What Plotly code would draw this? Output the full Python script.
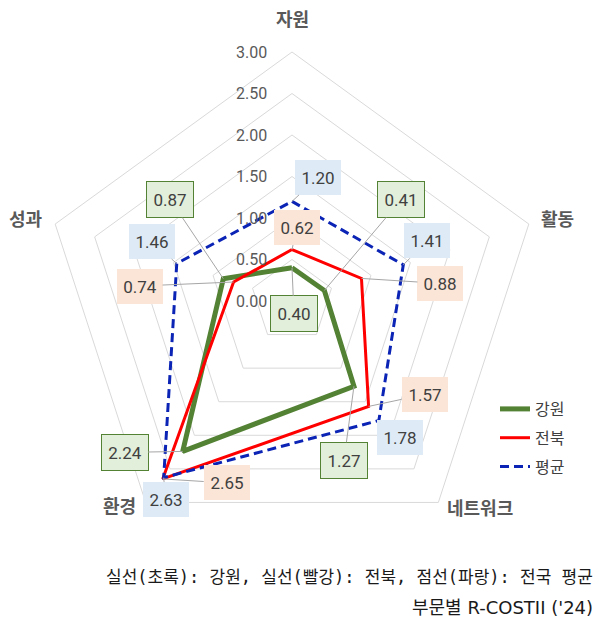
import math
import plotly.graph_objects as go

# ---- data -------------------------------------------------------------
categories = ['자원', '활동', '네트워크', '환경', '성과']
gangwon = [0.40, 0.41, 1.27, 2.24, 0.87]
jeonbuk = [0.62, 0.88, 1.57, 2.65, 0.74]
national_avg = [1.20, 1.41, 1.78, 2.63, 1.46]
series_names = ['강원', '전북', '평균']
radial_ticks = [0.0, 0.5, 1.0, 1.5, 2.0, 2.5, 3.0]
radial_tick_labels = ['0.00', '0.50', '1.00', '1.50', '2.00', '2.50', '3.00']
footer_lines = ['실선(초록): 강원, 실선(빨강): 전북, 점선(파랑): 전국 평균',
                "부문별 R-COSTII ('24)"]

series_values = {'강원': gangwon, '전북': jeonbuk, '평균': national_avg}

# ---- styling ----------------------------------------------------------
W, H = 599, 622
R_MAX = 3.0
CX, CY, RAD = 292, 301, 249          # plot centre / radius in pixels
dom_x = [(CX - RAD) / W, (CX + RAD) / W]
dom_y = [1 - (CY + RAD) / H, 1 - (CY - RAD) / H]

GRID = '#d9d9d9'
TEXT = '#404040'
AXIS_TEXT = '#595959'

line_styles = {
    '강원': dict(color='#548235', width=5),
    '전북': dict(color='#ff0000', width=3),
    '평균': dict(color='#0b24b5', width=3, dash='9px,5px'),
}
box_styles = {
    '강원': dict(bgcolor='#e2efda', bordercolor='#548235', borderwidth=1),
    '전북': dict(bgcolor='#fbe5d6', bordercolor='rgba(0,0,0,0)', borderwidth=0),
    '평균': dict(bgcolor='#deebf7', bordercolor='rgba(0,0,0,0)', borderwidth=0),
}
# pixel offsets of each value box from its point (x right, y down)
label_offsets = {
    '강원': [(2, 46), (77, -91), (-10, 74), (-58, 1), (-53, -79)],
    '전북': [(5, -22), (79, 5), (56, -12), (64, 4), (-94, 4)],
    '평균': [(26, -24), (24, -24), (21, 17), (2, 22), (-25, -22)],
}
# placement of the category names around the outer ring
category_label_pos = [
    dict(xanchor='center', xshift=0, yshift=34),
    dict(xanchor='left', xshift=10, yshift=6),
    dict(xanchor='left', xshift=7, yshift=-5),
    dict(xanchor='right', xshift=-8, yshift=-3),
    dict(xanchor='right', xshift=-10, yshift=6),
]
footer_fonts = [
    dict(family='DejaVu Sans Mono, Noto Sans CJK KR', size=17, color='#1a1a1a'),
    dict(family='DejaVu Sans, Noto Sans CJK KR', size=18, color='#1a1a1a'),
]


def to_xy(idx, r):
    """Cartesian position of category idx at radius r (clockwise from top)."""
    a = 2 * math.pi * idx / len(categories)
    return r * math.sin(a), r * math.cos(a)


fig = go.Figure()

# radar polygons
for name in series_names:
    vals = series_values[name]
    fig.add_trace(go.Scatterpolar(
        r=vals + vals[:1], theta=categories + categories[:1],
        mode='lines', name=name, line=line_styles[name],
        legendgroup=name, hoverinfo='skip', subplot='polar'))

# invisible anchor points on the overlay axes
xs, ys = [], []
for name in series_names:
    for i, v in enumerate(series_values[name]):
        x, y = to_xy(i, v)
        xs.append(x)
        ys.append(y)
fig.add_trace(go.Scatter(x=xs, y=ys, mode='markers', marker=dict(opacity=0),
                         showlegend=False, hoverinfo='skip'))

annotations = []

# value boxes with leader lines
for name in series_names:
    for i, v in enumerate(series_values[name]):
        x, y = to_xy(i, v)
        ax, ay = label_offsets[name][i]
        annotations.append(dict(
            x=x, y=y, xref='x', yref='y', ax=ax, ay=ay,
            text=f'{v:.2f}', showarrow=True, arrowhead=0, arrowwidth=1,
            arrowcolor='#a6a6a6', standoff=0,
            font=dict(family='Roboto', size=17, color=TEXT),
            width=36, height=25, borderpad=5, **box_styles[name]))

# radial tick labels along the top spoke
for r, lab in zip(radial_ticks, radial_tick_labels):
    annotations.append(dict(
        x=0, y=r, xref='x', yref='y', text=lab, showarrow=False,
        xanchor='right', yanchor='middle', xshift=-23,
        font=dict(family='Roboto', size=16, color=AXIS_TEXT)))

# category names
for i, cat in enumerate(categories):
    x, y = to_xy(i, R_MAX)
    pos = category_label_pos[i]
    annotations.append(dict(
        x=x, y=y, xref='x', yref='y', text=cat, showarrow=False,
        yanchor='middle', font=dict(family='Noto Sans CJK KR', size=18,
                                    color=AXIS_TEXT, weight='bold'), **pos))

# footer notes
for k, line in enumerate(footer_lines):
    annotations.append(dict(
        x=595 / W, y=1 - (577 + 30 * k) / H, xref='paper', yref='paper',
        text=line, showarrow=False, xanchor='right', yanchor='middle',
        font=footer_fonts[k]))

fig.update_layout(
    width=W, height=H,
    margin=dict(l=0, r=0, t=0, b=0),
    paper_bgcolor='white', plot_bgcolor='rgba(0,0,0,0)',
    polar=dict(
        domain=dict(x=dom_x, y=dom_y),
        gridshape='linear', bgcolor='white',
        radialaxis=dict(range=[0, R_MAX], tickvals=radial_ticks,
                        showticklabels=False, ticks='', showline=False,
                        gridcolor=GRID, gridwidth=1),
        angularaxis=dict(categoryorder='array', categoryarray=categories,
                         direction='clockwise', rotation=90,
                         showgrid=False, showticklabels=False, ticks='',
                         showline=True, linecolor=GRID, linewidth=1),
    ),
    xaxis=dict(domain=dom_x, range=[-R_MAX, R_MAX], visible=False,
               fixedrange=True),
    yaxis=dict(domain=dom_y, range=[-R_MAX, R_MAX], visible=False,
               fixedrange=True),
    showlegend=True,
    legend=dict(x=495 / W, y=1 - 392 / H, xanchor='left', yanchor='top',
                font=dict(family='Noto Sans CJK KR', size=16, color=TEXT),
                tracegroupgap=5, bgcolor='rgba(0,0,0,0)'),
    annotations=annotations,
)

fig.write_html('out.html')
